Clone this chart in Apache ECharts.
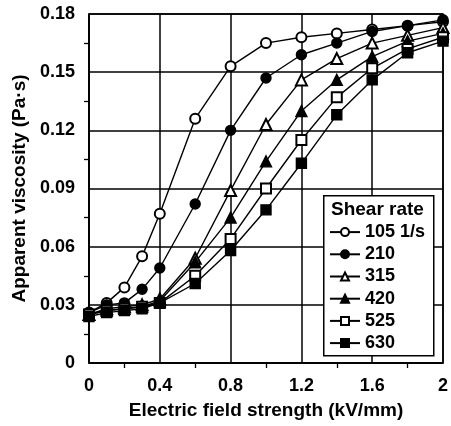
<!DOCTYPE html>
<html>
<head>
<meta charset="utf-8">
<script src="https://cdn.jsdelivr.net/npm/echarts@6/dist/echarts.min.js"></script>
<style>
  html, body { margin: 0; padding: 0; background: #fff; }
  #main { width: 451px; height: 426px; }
</style>
</head>
<body>
<div id="main"></div>
<script>
// field strength (kV/mm)
var fieldData = [0, 0.1, 0.2, 0.3, 0.4, 0.6, 0.8, 1.0, 1.2, 1.4, 1.6, 1.8, 2.0];
var shearNames = ['105 1/s', '210', '315', '420', '525', '630'];
var shearSymbols = ['emptyCircle', 'circle', 'emptyTriangle', 'triangle', 'emptyRect', 'rect'];

// apparent viscosity (Pa·s)
var v105 = [0.026, 0.031, 0.039, 0.055, 0.077, 0.126, 0.153, 0.165, 0.168, 0.170, 0.172, 0.174, 0.176];
var v210 = [0.026, 0.030, 0.031, 0.038, 0.049, 0.082, 0.120, 0.147, 0.159, 0.165, 0.171, 0.174, 0.177];
var v315 = [0.025, 0.028, 0.029, 0.030, 0.033, 0.054, 0.089, 0.123, 0.146, 0.157, 0.165, 0.169, 0.173];
var v420 = [0.025, 0.027, 0.028, 0.029, 0.032, 0.052, 0.075, 0.104, 0.130, 0.146, 0.158, 0.166, 0.170];
var v525 = [0.025, 0.027, 0.028, 0.029, 0.031, 0.045, 0.064, 0.090, 0.115, 0.137, 0.152, 0.162, 0.168];
var v630 = [0.024, 0.026, 0.027, 0.028, 0.031, 0.041, 0.058, 0.079, 0.103, 0.128, 0.146, 0.160, 0.166];

var xTicks = [0, 0.4, 0.8, 1.2, 1.6, 2];
var yTicks = [0, 0.03, 0.06, 0.09, 0.12, 0.15, 0.18];

showchart();

function showchart(){
    var allData = [v105, v210, v315, v420, v525, v630],
        font = 'Liberation Sans, Arial, sans-serif',
        series = [];

    allData.forEach(function(vals, i) {
        var sym = shearSymbols[i];
        series.push({
            name: shearNames[i], type: 'line',
            data: fieldData.map(function(x, j) { return [x, vals[j]]; }),
            symbol: sym, symbolSize: /riangle/.test(sym) ? 11 : 10,
            lineStyle: { color: '#000', width: 1.4 },
            itemStyle: { color: '#000', borderColor: '#000', borderWidth: 1.4 },
            z: 3
        });
    });

    var axisLine = { lineStyle: { color: '#000', width: 1.5 } },
        splitLine = { show: true, lineStyle: { color: '#000', width: 1.5 } },
        minorTick = { show: true, splitNumber: 2, length: 5, lineStyle: { color: '#000', width: 1.3 } },
        label = { color: '#000', fontFamily: font, fontWeight: 'bold', fontSize: 18 },
        nameStyle = { color: '#000', fontFamily: font, fontWeight: 'bold', fontSize: 19 };

    var myChart = echarts.init(document.getElementById('main')),
        option = {
        animation: false,
        backgroundColor: '#fff',
        grid: { left: 89, top: 14, right: 8, bottom: 63, show: true, borderColor: '#000', borderWidth: 1.5 },
        xAxis: {
            type: 'value', min: 0, max: 2, interval: 0.4,
            name: 'Electric field strength (kV/mm)', nameLocation: 'middle', nameGap: 38,
            nameTextStyle: nameStyle,
            axisLine: axisLine, axisTick: { show: false }, minorTick: minorTick, splitLine: splitLine,
            axisLabel: Object.assign({ margin: 14, formatter: function(v) {
                var r = +v.toFixed(1);
                return xTicks.indexOf(r) >= 0 ? String(r) : '';
            } }, label)
        },
        yAxis: {
            type: 'value', min: 0, max: 0.18, interval: 0.03,
            name: 'Apparent viscosity (Pa·s)', nameLocation: 'middle', nameGap: 57,
            nameTextStyle: nameStyle,
            axisLine: axisLine, axisTick: { show: false }, minorTick: minorTick, splitLine: splitLine,
            axisLabel: Object.assign({ margin: 14, formatter: function(v) {
                var r = +v.toFixed(2);
                return r === 0 ? '0' : r.toFixed(2);
            } }, label)
        },
        legend: {
            orient: 'vertical', left: 329, top: 223, z: 10, padding: 0,
            itemWidth: 30, itemHeight: 10, itemGap: 4,
            textStyle: { color: '#000', fontFamily: font, fontWeight: 'bold', fontSize: 18, lineHeight: 18.2 },
            data: shearNames
        },
        graphic: [
            { type: 'rect', left: 323, top: 195, z: 9, shape: { width: 110, height: 160 },
              style: { fill: '#fff', stroke: '#000', lineWidth: 1.5 } },
            { type: 'text', left: 331, top: 200, z: 11,
              style: { text: 'Shear rate', fill: '#000', font: 'bold 19px ' + font } }
        ],
        series: series
    };

    myChart.setOption(option);
}
</script>
</body>
</html>
